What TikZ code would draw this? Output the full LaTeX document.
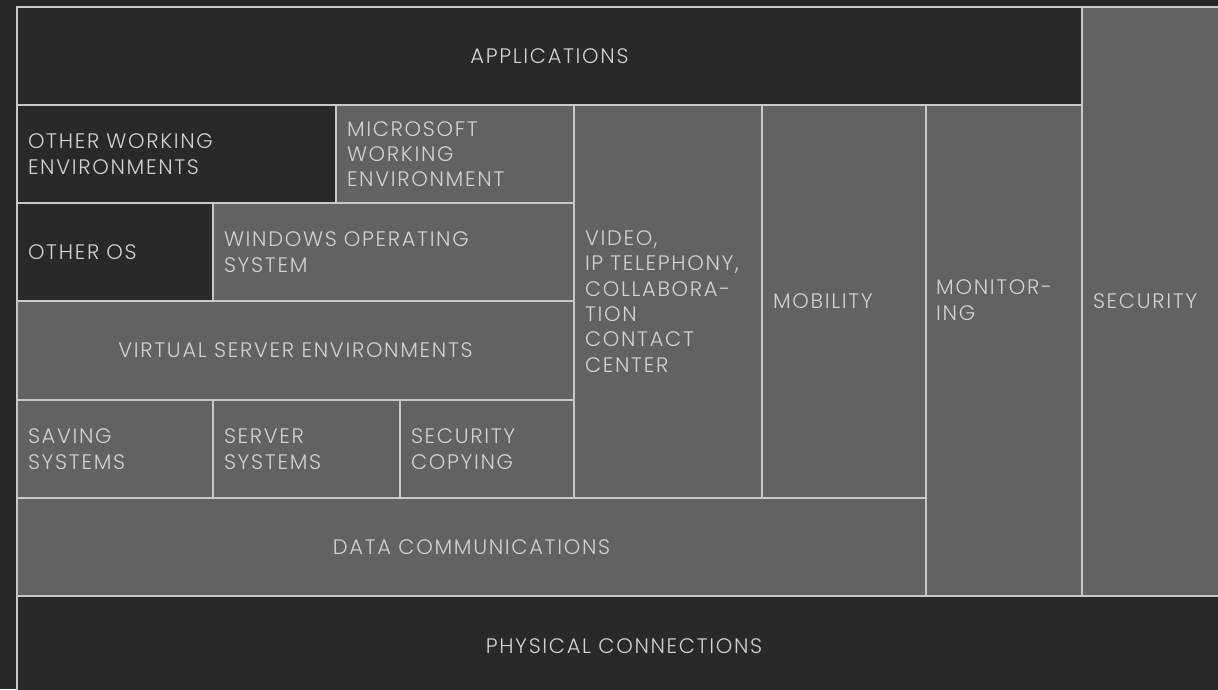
\documentclass[tikz,border=0pt]{standalone}
\usepackage{fontspec}
\setmainfont{Poppins Light}[LetterSpace=8]
\definecolor{bgdark}{HTML}{272727}
\definecolor{celldark}{HTML}{292929}
\definecolor{cellgray}{HTML}{616264}
\definecolor{rule}{HTML}{C8C8C8}
\definecolor{ink}{HTML}{D2D2D2}

\begin{document}
\begin{tikzpicture}[x=1pt,y=-1pt,
  cell/.style={draw=rule,line width=2pt,anchor=north west,inner xsep=11pt,inner ysep=0pt,
    text=ink,font=\fontsize{21}{25.3}\selectfont},
  darkcell/.style={cell,fill=celldark},
  graycell/.style={cell,fill=cellgray},
  label text/.style={text=ink,inner sep=0pt,font=\fontsize{21}{25.3}\selectfont}]
  \useasboundingbox (0,0) rectangle (1218,689);
  \clip (0,0) rectangle (1218,689);
  \fill[bgdark] (0,0) rectangle (1218,689);

  % top row and right column
  \node[darkcell,minimum width=1065pt,minimum height=98pt,align=center] (apps) at (16,6) {APPLICATIONS};
  \node[graycell,minimum width=159pt,minimum height=589pt,text width=137pt,align=left] (security) at (1081,6) {SECURITY};

  % working environments
  \node[darkcell,minimum width=319pt,minimum height=98pt,text width=297pt,align=left] (otherwork) at (16,104) {OTHER WORKING\\ENVIRONMENTS};
  \node[graycell,minimum width=238pt,minimum height=98pt,text width=216pt,align=left] (mswork) at (335,104) {MICROSOFT\\WORKING\\ENVIRONMENT};

  % tall columns
  \node[graycell,minimum width=188pt,minimum height=393pt,text width=166pt,align=left] (video) at (573,104) {VIDEO,\\IP TELEPHONY,\\COLLABORA-\\TION\\CONTACT\\CENTER};
  \node[graycell,minimum width=164pt,minimum height=393pt,text width=142pt,align=left] (mobility) at (761,104) {MOBILITY};
  \node[graycell,minimum width=156pt,minimum height=491pt] (monitoring) at (925,104) {};
  \node[label text,anchor=west,align=left] (monlabel) at (936,300) {MONITOR-\\ING};

  % operating systems
  \node[darkcell,minimum width=196pt,minimum height=98pt,text width=174pt,align=left] (otheros) at (16,202) {OTHER OS};
  \node[graycell,minimum width=361pt,minimum height=98pt,text width=339pt,align=left] (winos) at (212,202) {WINDOWS OPERATING\\SYSTEM};

  % servers
  \node[graycell,minimum width=557pt,minimum height=99pt,align=center] (virtual) at (16,300) {VIRTUAL SERVER ENVIRONMENTS};
  \node[graycell,minimum width=196pt,minimum height=98pt,text width=174pt,align=left] (saving) at (16,399) {SAVING\\SYSTEMS};
  \node[graycell,minimum width=187pt,minimum height=98pt,text width=165pt,align=left] (server) at (212,399) {SERVER\\SYSTEMS};
  \node[graycell,minimum width=174pt,minimum height=98pt,text width=152pt,align=left] (seccopy) at (399,399) {SECURITY\\COPYING};

  % bottom layers
  \node[graycell,minimum width=909pt,minimum height=98pt,align=center] (datacomm) at (16,497) {DATA COMMUNICATIONS};
  \node[darkcell,minimum width=1214pt,minimum height=101pt,align=center] (physical) at (16,595) {PHYSICAL CONNECTIONS};
\end{tikzpicture}
\end{document}
